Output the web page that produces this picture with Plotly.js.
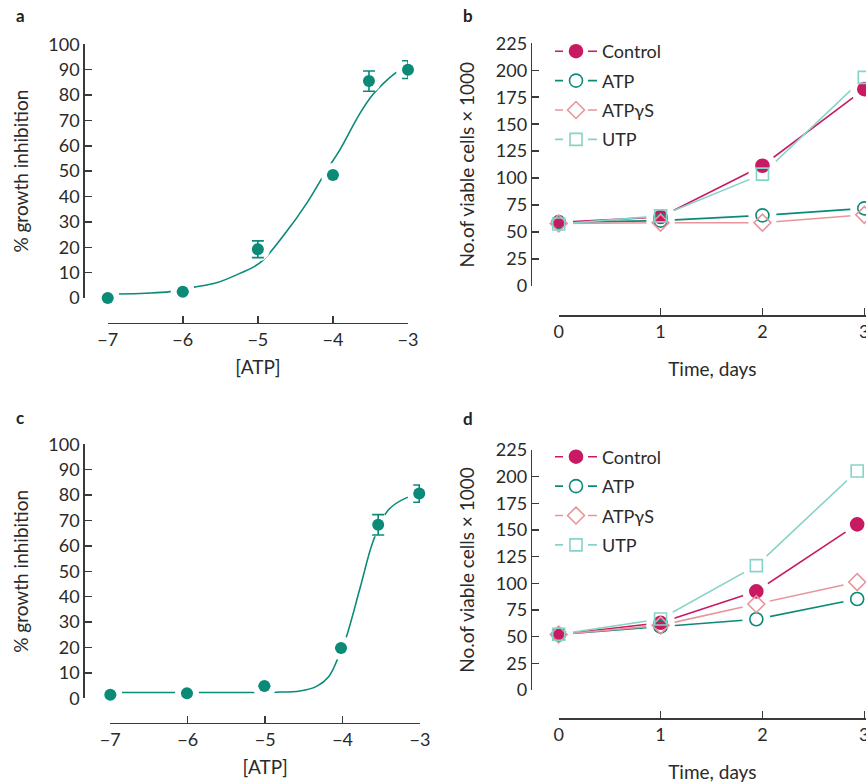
<!DOCTYPE html>
<html>
<head>
<meta charset="utf-8">
<script src="https://cdn.plot.ly/plotly-3.0.1.min.js"></script>
<style>
  html, body { margin: 0; padding: 0; background: #fff; }
  #chart { width: 866px; height: 783px; }
</style>
</head>
<body>
<div id="chart"></div>
<script>
// ---------- DATA ----------
const doseA = [-7, -6, -5, -4, -3.52, -3];
const inhibA = [0, 2.5, 19.2, 48.5, 85.5, 90];
const errA = [0, 0, 3.3, 0, 4, 3.5];
const curveAx = [-6.86, -6.5, -6.17, -5.86, -5.55, -5.24, -4.97, -4.62, -4.35, -4.08, -3.91, -3.64, -3.46, -3.28, -3.12];
const curveAy = [1.6, 1.9, 2.5, 4.2, 6.0, 9.7, 13.9, 26.1, 37.3, 50.5, 58.3, 72.8, 80.5, 85.9, 89.7];

const doseC = [-7, -6.01, -5.01, -4.02, -3.54, -3.01];
const inhibC = [1.4, 2.0, 4.8, 19.8, 68.3, 80.6];
const errC = [0, 0, 0, 0, 4, 3.4];
const curveCx = [-6.9, -6.0, -5.0, -4.87, -4.55, -4.33, -4.18, -4.07, -3.95, -3.77, -3.60, -3.41, -3.17, -3.06];
const curveCy = [2.3, 2.3, 2.3, 2.4, 2.9, 4.8, 8.5, 15.0, 24.3, 43.9, 62.3, 74.1, 79.0, 79.8];

const doseTicks = [-7, -6, -5, -4, -3];

const daysB = [0, 1, 2, 3];
const controlB = [59, 64, 111.5, 182.5];
const atpB = [59, 60.6, 65.5, 72];
const atpgsB = [58, 58.7, 58.7, 66];
const utpB = [57.5, 65, 103.7, 193.4];

const daysD = [0, 1, 1.94, 2.93];
const controlD = [52, 63, 92.5, 155.3];
const atpD = [52, 59.4, 66.3, 85.3];
const atpgsD = [52, 60.6, 80.6, 101.2];
const utpD = [52.2, 66.6, 116.6, 205.3];

const dayTicks = [0, 1, 2, 3];
const seriesNames = ['Control', 'ATP', 'ATPγS', 'UTP'];

// ---------- STYLE ----------
const W = 866, H = 783;
const fx = px => px / W;
const fy = py => 1 - py / H;
const TEAL = '#0b8a78', MAG = '#c81a62', PINK = '#e8959a', LTEAL = '#86d3c9';
const AX = '#3a3a3a';
const FONT = 'Lato, "Noto Sans", sans-serif';
const symbols = ['circle', 'circle-open', 'diamond-open', 'square-open'];
const colors = [MAG, TEAL, PINK, LTEAL];
const msizes = [13, 13, 13, 12];

const traces = [];

// lines on the base subplot; white halo + markers on an overlaid y axis so gaps open round each marker
function doseTraces(xa, ya, yo, dx, dy, err, cx, cy) {
  traces.push({x: cx, y: cy, xaxis: xa, yaxis: ya, mode: 'lines',
    line: {color: TEAL, width: 1.6, shape: 'spline', smoothing: 1},
    showlegend: false, hoverinfo: 'skip', cliponaxis: true});
  traces.push({x: dx, y: dy, xaxis: xa, yaxis: yo, mode: 'markers', marker: {color: '#fff', size: 24},
    showlegend: false, hoverinfo: 'skip', cliponaxis: false});
  traces.push({x: dx, y: dy, xaxis: xa, yaxis: yo, mode: 'markers', marker: {color: TEAL, size: 12},
    error_y: {type: 'data', array: err, visible: true, color: TEAL, thickness: 1.6, width: 6},
    showlegend: false, cliponaxis: false});
}
doseTraces('x', 'y', 'y5', doseA, inhibA, errA, curveAx, curveAy);
doseTraces('x3', 'y3', 'y7', doseC, inhibC, errC, curveCx, curveCy);

function timeTraces(xa, ya, yo, days, sets, legendName, gp) {
  sets.forEach((s, i) => traces.push({x: days, y: s, xaxis: xa, yaxis: ya, mode: 'lines',
    line: {color: colors[i], width: 1.6}, showlegend: false, hoverinfo: 'skip', cliponaxis: true}));
  sets.forEach((s, i) => traces.push({x: days, y: s, xaxis: xa, yaxis: yo, mode: 'markers',
    marker: {color: '#fff', size: 28}, showlegend: false, hoverinfo: 'skip', cliponaxis: false}));
  sets.forEach((s, i) => traces.push({x: days, y: s, xaxis: xa, yaxis: yo, mode: 'markers', name: seriesNames[i],
    marker: {color: colors[i], size: msizes[i], symbol: symbols[i], line: {color: colors[i], width: 1.6}},
    showlegend: false, cliponaxis: false}));
  sets.forEach((s, i) => traces.push({x: [null], y: [null], xaxis: xa, yaxis: ya, mode: 'lines+markers', name: seriesNames[i],
    legend: legendName, legendgroup: gp + i,
    line: {color: colors[i], width: 1.6, dash: '8px,25px,9px'},
    marker: {color: colors[i], size: msizes[i], symbol: symbols[i], line: {color: colors[i], width: 1.6}}}));
}
timeTraces('x2', 'y2', 'y6', daysB, [controlB, atpB, atpgsB, utpB], 'legend', 'b');
timeTraces('x4', 'y4', 'y8', daysD, [controlD, atpD, atpgsD, utpD], 'legend2', 'd');

const TICKF = {family: FONT, size: 18, color: '#2a2a2a'};
function axisBase(extra) {
  return Object.assign({
    showline: true, linecolor: AX, linewidth: 1.5,
    ticks: 'inside', ticklen: 7, tickwidth: 1.5, tickcolor: AX,
    showgrid: false, zeroline: false, fixedrange: true,
    tickfont: TICKF, ticklabeloverflow: 'allow',
    anchor: 'free'
  }, extra);
}
const overlay = (base, xa, range) => ({overlaying: base, anchor: xa, range: range, visible: false,
  showgrid: false, zeroline: false, fixedrange: true});
const titleFont = {family: FONT, size: 19, color: '#2a2a2a'};
const legFont = {family: FONT, size: 18, color: '#2a2a2a'};
const lab = (t, x, y) => ({text: '<b>' + t + '</b>', x: fx(x), y: fy(y), xref: 'paper', yref: 'paper',
  xanchor: 'center', yanchor: 'middle', showarrow: false, font: {family: FONT, size: 17, color: '#222'}});

const layout = {
  width: W, height: H,
  margin: {l: 0, r: 0, t: 0, b: 0},
  paper_bgcolor: '#fff', plot_bgcolor: 'rgba(0,0,0,0)',
  font: {family: FONT, color: '#2a2a2a'},
  showlegend: true,
  xaxis: axisBase({domain: [fx(107.7), fx(408)], range: [-7, -3], position: fy(322.7),
    tickmode: 'array', tickvals: doseTicks, title: {text: '[ATP]', font: titleFont, standoff: 12}}),
  yaxis: axisBase({domain: [fy(298), fy(44.3)], range: [0, 100], position: fx(83.3), dtick: 10, tick0: 0,
    title: {text: '% growth inhibition', font: titleFont, standoff: 13}}),
  xaxis2: axisBase({domain: [fx(558.7), 1], range: [0, 3.0167], position: fy(315),
    tickmode: 'array', tickvals: dayTicks, title: {text: 'Time, days', font: titleFont, standoff: 21}}),
  yaxis2: axisBase({domain: [fy(286), fy(43.3)], range: [0, 225], position: fx(530.7), dtick: 25, tick0: 0,
    title: {text: 'No.of viable cells × 1000', font: titleFont, standoff: 14}}),
  xaxis3: axisBase({domain: [fx(110.3), fx(420)], range: [-7, -3], position: fy(722.7),
    tickmode: 'array', tickvals: doseTicks, title: {text: '[ATP]', font: titleFont, standoff: 12}}),
  yaxis3: axisBase({domain: [fy(698.3), fy(444.3)], range: [0, 100], position: fx(83.3), dtick: 10, tick0: 0,
    title: {text: '% growth inhibition', font: titleFont, standoff: 13}}),
  xaxis4: axisBase({domain: [fx(558.7), 1], range: [0, 3.0167], position: fy(718.3),
    tickmode: 'array', tickvals: dayTicks, title: {text: 'Time, days', font: titleFont, standoff: 21}}),
  yaxis4: axisBase({domain: [fy(690), fy(450)], range: [0, 225], position: fx(530.7), dtick: 25, tick0: 0,
    title: {text: 'No.of viable cells × 1000', font: titleFont, standoff: 14}}),
  yaxis5: overlay('y', 'x', [0, 100]),
  yaxis6: overlay('y2', 'x2', [0, 225]),
  yaxis7: overlay('y3', 'x3', [0, 100]),
  yaxis8: overlay('y4', 'x4', [0, 225]),
  legend: {x: fx(550), xanchor: 'left', y: fy(33), yanchor: 'top', bgcolor: 'rgba(0,0,0,0)', itemwidth: 42,
    font: legFont, traceorder: 'grouped', tracegroupgap: 3, itemclick: false},
  legend2: {x: fx(550), xanchor: 'left', y: fy(438.5), yanchor: 'top', bgcolor: 'rgba(0,0,0,0)', itemwidth: 42,
    font: legFont, traceorder: 'grouped', tracegroupgap: 3, itemclick: false},
  annotations: [lab('a', 20, 15), lab('b', 468, 15), lab('c', 20, 417), lab('d', 468, 418)]
};

Plotly.newPlot('chart', traces, layout, {displayModeBar: false, staticPlot: true});
</script>
</body>
</html>
